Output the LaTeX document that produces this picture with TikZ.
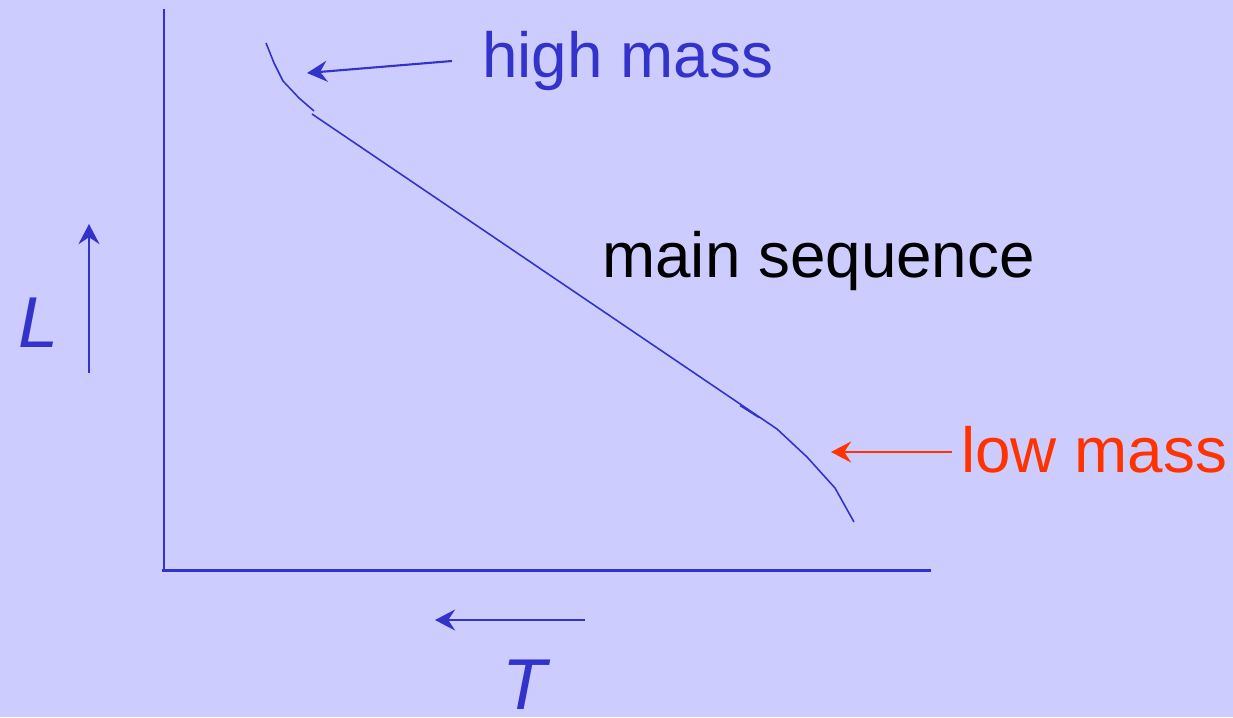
\documentclass[tikz,border=0pt]{standalone}
\usepackage{fontspec}
\setmainfont{Liberation Sans}
\usetikzlibrary{arrows.meta}
\definecolor{bgblue}{HTML}{CCCCFF}
\definecolor{lineblue}{HTML}{3333CC}
\definecolor{lowred}{HTML}{FF3300}

\begin{document}
\begin{tikzpicture}[x=0.02cm,y=-0.02cm,
  lbl/.style={inner sep=0pt,anchor=base west,font=\fontsize{36.3}{40}\selectfont},
  axlbl/.style={inner sep=0pt,anchor=base west,text=lineblue,font=\fontsize{41}{48}\selectfont\itshape},
  arr/.style={-{Stealth[length=11.5pt,width=12pt,inset=4pt]},line width=1.2pt},
  track/.style={lineblue,line width=0.9pt,line join=round}]
\fill[bgblue] (0,0) rectangle (1233,717);
\useasboundingbox (0,0) rectangle (1233,717);
% axes
\draw[lineblue,line width=1.2pt] (164,9) -- (164,571);
\draw[lineblue,line width=1.7pt] (162,570.5) -- (931,570.5);
% the main sequence track
\coordinate (top) at (266,43);
\coordinate (knee) at (314,111);
\coordinate (ms0) at (312,114);
\coordinate (ms1) at (777,429);
\coordinate (bot) at (854,522);
\draw[track] (top) -- (274,63) -- (283,81) -- (299,98) -- (knee);
\draw[track] (ms0) -- (ms1) -- (807,457) -- (835,488) -- (bot);
\draw[track] (740,405.5) -- (759,417.5);
% labels
\node[lbl,text=lineblue] (hm) at (482,77) {high mass};
\node[lbl,text=black] (ms) at (602,277) {main sequence};
\node[lbl,text=lowred] (lm) at (961,472) {low mass};
\node[axlbl] (Llab) at (18,347) {L};
\node[axlbl] (Tlab) at (502,709) {T};
% pointers
\coordinate (hmtail) at (452,61);
\coordinate (hmtip) at (307,73);
\coordinate (lmtail) at (952,452);
\coordinate (lmtip) at (831,452);
\coordinate (Ltail) at (89,373);
\coordinate (Ltip) at (89,224);
\coordinate (Ttail) at (585,620);
\coordinate (Ttip) at (435,620);
\draw[arr,lineblue] (hmtail) -- (hmtip);
\draw[arr,lowred] (lmtail) -- (lmtip);
\draw[arr,lineblue] (Ltail) -- (Ltip);
\draw[arr,lineblue] (Ttail) -- (Ttip);
\end{tikzpicture}
\end{document}
